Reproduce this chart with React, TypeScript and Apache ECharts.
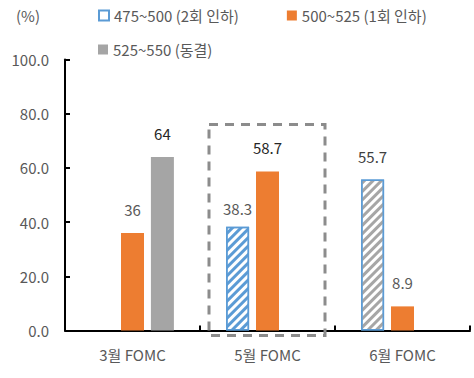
import React, { useEffect, useRef } from "react";
import * as echarts from "echarts";

const categories = ["3월 FOMC", "5월 FOMC", "6월 FOMC"];
const seriesNames = ["475~500 (2회 인하)", "500~525 (1회 인하)", "525~550 (동결)"];
const cut2 = [null, 38.3, 55.7];
const cut1 = [36, 58.7, 8.9];
const hold = [64, null, null];
const yTicks = [0, 20, 40, 60, 80, 100];

const FONT = "'Noto Sans CJK KR', 'Noto Sans', sans-serif";
const BLUE = "#5B9BD5";
const ORANGE = "#ED7D31";
const GRAY = "#A5A5A5";

export default function App() {
  const ref = useRef<HTMLDivElement>(null);
  useEffect(() => {
    if (!ref.current) return;
    const chart = echarts.init(ref.current, undefined, { renderer: "svg" });
    const decal = (c: string) => ({
      symbol: "rect",
      dashArrayX: [1, 0],
      dashArrayY: [3, 3],
      rotation: -Math.PI / 4,
      color: c,
    });
    const lbl = (dist: number, color: string) => ({
      show: true,
      position: "top",
      distance: dist,
      color,
      fontSize: 15,
      fontFamily: FONT,
    });
    chart.setOption({
      animation: false,
      textStyle: { fontFamily: FONT },
      grid: { left: 65, right: 4, top: 59.5, bottom: 47.5 },
      legend: [
        {
          left: 93,
          top: 3,
          itemWidth: 10,
          itemHeight: 10,
          itemGap: 48,
          textStyle: { fontSize: 15, color: "#595959", fontFamily: FONT },
          data: [
            {
              name: seriesNames[0],
              icon: "rect",
              itemStyle: { color: "#fff", borderColor: BLUE, borderWidth: 2, decal: "none" },
            },
            { name: seriesNames[1], icon: "rect", itemStyle: { color: ORANGE, decal: "none" } },
          ],
        },
        {
          left: 93,
          top: 37,
          itemWidth: 10,
          itemHeight: 10,
          textStyle: { fontSize: 15, color: "#595959", fontFamily: FONT },
          data: [{ name: seriesNames[2], icon: "rect", itemStyle: { color: GRAY } }],
        },
      ],
      xAxis: {
        type: "category",
        data: categories,
        axisLine: { lineStyle: { color: "#000", width: 2 } },
        axisTick: { show: true, inside: true, length: 5, lineStyle: { color: "#000", width: 2 } },
        axisLabel: { color: "#595959", fontSize: 15, margin: 16, fontFamily: FONT },
      },
      yAxis: {
        type: "value",
        min: 0,
        max: 100,
        interval: 20,
        splitLine: { show: false },
        axisLine: { show: true, lineStyle: { color: "#000", width: 2 } },
        axisTick: { show: true, inside: true, length: 5, lineStyle: { color: "#000", width: 2 } },
        axisLabel: {
          color: "#595959",
          fontSize: 15,
          margin: 16,
          fontFamily: FONT,
          formatter: (v: number) => (yTicks.includes(v) ? v.toFixed(1) : ""),
        },
      },
      graphic: [
        {
          type: "text",
          left: 16,
          top: 8,
          style: { text: "(%)", fontSize: 15, fill: "#595959", fontFamily: FONT },
        },
        {
          type: "rect",
          shape: { x: 209, y: 124.5, width: 116, height: 211 },
          style: { fill: "none", stroke: "#8C8C8C", lineWidth: 3, lineDash: [9, 7] },
          z: 100,
        },
      ],
      series: [
        {
          name: seriesNames[0],
          type: "bar",
          barWidth: 23,
          barGap: "30%",
          itemStyle: { color: "#fff", borderColor: BLUE, borderWidth: 1.5, decal: decal(BLUE) },
          data: cut2.map((v, i) =>
            v == null
              ? null
              : {
                  value: v,
                  label: i === 2 ? lbl(16, "#404040") : lbl(11, "#595959"),
                  itemStyle:
                    i === 2
                      ? { color: "#fff", borderColor: BLUE, borderWidth: 1.5, decal: decal("#A6A6A6") }
                      : undefined,
                }
          ),
        },
        {
          name: seriesNames[1],
          type: "bar",
          barWidth: 23,
          barGap: "30%",
          itemStyle: { color: ORANGE },
          data: cut1.map((v, i) => ({
            value: v,
            label: i === 1 ? lbl(16, "#262626") : lbl(16, "#595959"),
          })),
        },
        {
          name: seriesNames[2],
          type: "bar",
          barWidth: 23,
          barGap: "30%",
          itemStyle: { color: GRAY },
          data: hold.map((v) => (v == null ? null : { value: v, label: lbl(16, "#262626") })),
        },
      ],
    });
    return () => chart.dispose();
  }, []);
  return <div ref={ref} style={{ position: "absolute", left: 0, top: 0, width: 474, height: 378 }} />;
}
